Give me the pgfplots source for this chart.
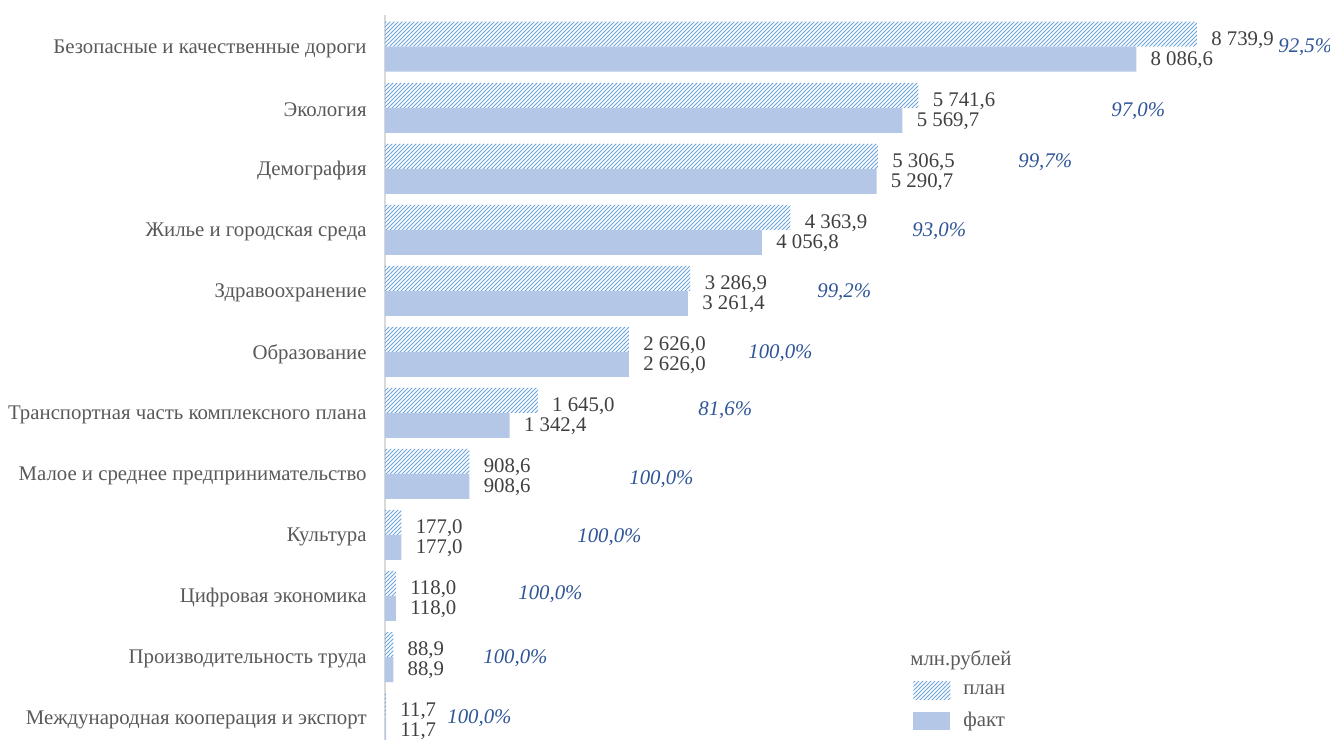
\documentclass[border=0pt]{standalone}
\usepackage{pgfplots}
\pgfplotsset{compat=1.18}
\usepackage{pgfplotstable}
\usepackage{fontspec}
\setmainfont{Liberation Serif}
\usetikzlibrary{patterns}
\definecolor{factc}{HTML}{B4C7E7}
\definecolor{hatchc}{HTML}{6FA6DC}
\definecolor{lblc}{HTML}{595959}
\definecolor{valc}{HTML}{404040}
\definecolor{pctc}{HTML}{2F5597}
\definecolor{axc}{HTML}{D9D9D9}
\pgfdeclarepatternformonly{myhatch}{\pgfqpoint{-1pt}{-1pt}}{\pgfqpoint{3pt}{3pt}}{\pgfqpoint{2pt}{2pt}}{%
  \pgfsetlinewidth{0.4pt}%
  \pgfpathmoveto{\pgfqpoint{-0.1pt}{-0.1pt}}%
  \pgfpathlineto{\pgfqpoint{2.1pt}{2.1pt}}%
  \pgfusepath{stroke}}
\newcommand{\fs}{\fontsize{10.4}{12.5}\selectfont}
\pgfplotstableread{
y plan fact
0 8739.9 8086.6
1 5741.6 5569.7
2 5306.5 5290.7
3 4363.9 4056.8
4 3286.9 3261.4
5 2626.0 2626.0
6 1645.0 1342.4
7 908.6 908.6
8 177.0 177.0
9 118.0 118.0
10 88.9 88.9
11 11.7 11.7
}\data
\pgfplotstableread{
x y lab
9612 0 92,5
7815 1.05 97,0
6814 1.89 99,7
5673 3.02 93,0
4650 4.02 99,2
3907 5.02 100,0
3369 5.95 81,6
2626 7.08 100,0
2067 8.03 100,0
1432 8.97 100,0
1055 10.02 100,0
667 11.0 100,0
}\pct
\begin{document}
\fs
\begin{tikzpicture}
\path[use as bounding box] (0,0) rectangle (665pt,370pt);
\begin{axis}[
  at={(192.5pt,0pt)}, anchor=south west,
  scale only axis, width=472.5pt, height=362.5pt,
  xmin=0, xmax=10172, ymin=-0.52, ymax=11.36, y dir=reverse,
  clip=false,
  axis x line=none, axis y line*=left,
  axis line style={draw=axc, line width=0.8pt},
  major tick length=0pt,
  ytick={0,...,11},
  yticklabels={Безопасные и качественные дороги, Экология, Демография, Жилье и городская среда, Здравоохранение, Образование, Транспортная часть комплексного плана, Малое и среднее предпринимательство, Культура, Цифровая экономика, Производительность труда, Международная кооперация и экспорт},
  yticklabel style={font=\fs, text=lblc, inner sep=0pt, xshift=-9pt, yshift=-1pt},
  legend image code/.code={\path[#1] (0pt,-4.5pt) rectangle (18.5pt,4.5pt);},
  legend style={draw=none, fill=none, at={(0.5587,0.0828)}, anchor=north west, inner sep=0pt,
    font=\fs, text=lblc, row sep=3.5pt,
    /tikz/every even column/.append style={column sep=0pt}},
  legend cell align=left,
  /pgf/number format/.cd, fixed, fixed zerofill, precision=1, use comma, 1000 sep={\ }, assume math mode=true,
]
\addplot[xbar, bar width=12.5pt, bar shift=0pt, draw=none, pattern=myhatch, pattern color=hatchc,
  point meta=x, nodes near coords,
  nodes near coords style={anchor=west, inner sep=0pt, xshift=7pt, yshift=-3pt, text=valc, font=\fs},
  forget plot]
  table[x=plan, y expr=\thisrow{y}-0.205]{\data};
\addplot[xbar, bar width=12.5pt, bar shift=0pt, draw=none, fill=factc,
  point meta=x, nodes near coords,
  nodes near coords style={anchor=west, inner sep=0pt, xshift=7pt, yshift=-0.5pt, text=valc, font=\fs},
  forget plot]
  table[x=fact, y expr=\thisrow{y}+0.205]{\data};
\addplot[only marks, mark=none, point meta=explicit symbolic,
  nodes near coords={\pgfplotspointmeta\%},
  nodes near coords style={anchor=west, inner sep=0pt, text=pctc, font=\fs\itshape},
  forget plot]
  table[x=x, y=y, meta=lab]{\pct};
\addlegendimage{draw=none, pattern=myhatch, pattern color=hatchc}
\addlegendentry{\hspace{4.5pt}план}
\addlegendimage{draw=none, fill=factc}
\addlegendentry{\hspace{4.5pt}факт}
\node[anchor=west, inner sep=0pt, text=lblc, font=\fs] at (rel axis cs:0.5556,0.110) {млн.рублей};
\end{axis}
\end{tikzpicture}
\end{document}
